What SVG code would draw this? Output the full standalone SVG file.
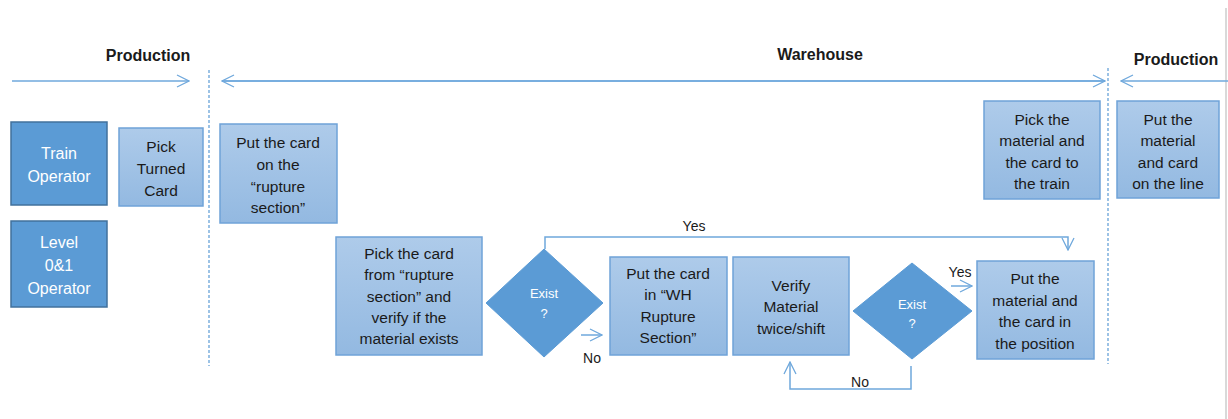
<svg xmlns="http://www.w3.org/2000/svg" width="1228" height="419" viewBox="0 0 1228 419">
<defs>
<linearGradient id="lg" x1="0" y1="0" x2="0" y2="1">
<stop offset="0" stop-color="#aecbea"/>
<stop offset="1" stop-color="#93b9e1"/>
</linearGradient>
<marker id="ahb" viewBox="0 0 14 14" refX="13" refY="7" markerWidth="14" markerHeight="14" markerUnits="userSpaceOnUse" orient="auto">
<path d="M1,1 L13,7 L1,13" fill="none" stroke="#6fa8dc" stroke-width="1.3"/>
</marker>
</defs>
<style>
.t{font-family:"Liberation Sans",Arial,sans-serif;font-size:15.5px;fill:#1a1a1a;text-anchor:middle}
.l{font-size:14px}
.w{fill:#ffffff;font-size:16px}
.s{font-size:13px}
.h{font-family:"Liberation Sans",Arial,sans-serif;font-size:16px;font-weight:bold;fill:#1a1a1a;text-anchor:middle}
.lb{fill:url(#lg);stroke:#6fa3d8;stroke-width:1.5}
.db{fill:#5b9bd5;stroke:#41719c;stroke-width:1.5}
.dm{fill:#5b9bd5;stroke:#5b9bd5;stroke-width:1}
.c{fill:none;stroke:#6fa8dc;stroke-width:1.5}
.d{fill:none;stroke:#5b9bd5;stroke-width:1.2;stroke-dasharray:3 2}
</style>
<rect width="1228" height="419" fill="#ffffff"/>
<line x1="1226" y1="8" x2="1226" y2="419" stroke="#d9d9d9" stroke-width="2"/>

<g id="headers">
<text class="h" x="148" y="61">Production</text>
<text class="h" x="820" y="60">Warehouse</text>
<text class="h" x="1176" y="65">Production</text>
</g>

<g id="connectors">
<line class="c" x1="12" y1="81" x2="189" y2="81" marker-end="url(#ahb)"/>
<line class="c" x1="1105" y1="81" x2="222" y2="81" marker-end="url(#ahb)"/>
<line class="c" x1="222" y1="81" x2="1105" y2="81" marker-end="url(#ahb)"/>
<line class="c" x1="1228" y1="81" x2="1121" y2="81" marker-end="url(#ahb)"/>
<line class="d" x1="209" y1="70" x2="209" y2="366"/>
<line class="d" x1="1108" y1="68" x2="1108" y2="364"/>
<polyline class="c" points="545,249 545,237 1068,237 1068,250" marker-end="url(#ahb)"/>
<line class="c" x1="581" y1="335" x2="602" y2="335" marker-end="url(#ahb)"/>
<line class="c" x1="951" y1="286" x2="972" y2="286" marker-end="url(#ahb)"/>
<polyline class="c" points="911,366 911,389 790,389 790,362" marker-end="url(#ahb)"/>
<text class="t l" x="694" y="231">Yes</text>
<text class="t l" x="592" y="363">No</text>
<text class="t l" x="960" y="277">Yes</text>
<text class="t l" x="860" y="387">No</text>
</g>

<g id="train-operator">
<rect class="db" x="11" y="122" width="96" height="83"/>
<text class="t w" x="59" y="159">Train</text>
<text class="t w" x="59" y="182">Operator</text>
</g>

<g id="level-operator">
<rect class="db" x="11" y="221" width="96" height="86"/>
<text class="t w" x="59" y="248">Level</text>
<text class="t w" x="59" y="271">0&amp;1</text>
<text class="t w" x="59" y="294">Operator</text>
</g>

<g id="pick-turned-card">
<rect class="lb" x="119" y="128" width="84" height="78"/>
<text class="t" x="161" y="152">Pick</text>
<text class="t" x="161" y="174">Turned</text>
<text class="t" x="161" y="196">Card</text>
</g>

<g id="put-card-rupture">
<rect class="lb" x="220" y="124" width="117" height="99"/>
<text class="t" x="278" y="148">Put the card</text>
<text class="t" x="278" y="170">on the</text>
<text class="t" x="278" y="192">“rupture</text>
<text class="t" x="278" y="213">section”</text>
</g>

<g id="pick-card-verify">
<rect class="lb" x="336" y="237" width="146" height="118"/>
<text class="t" x="409" y="259">Pick the card</text>
<text class="t" x="409" y="280">from “rupture</text>
<text class="t" x="409" y="302">section” and</text>
<text class="t" x="409" y="323">verify if the</text>
<text class="t" x="409" y="344">material exists</text>
</g>

<g id="exist-1">
<polygon class="dm" points="544,249 603,303 544,357 486,303"/>
<text class="t w s" x="544" y="298">Exist</text>
<text class="t w s" x="544" y="318">?</text>
</g>

<g id="put-card-wh">
<rect class="lb" x="610" y="257" width="117" height="98"/>
<text class="t" x="668" y="279">Put the card</text>
<text class="t" x="668" y="300">in “WH</text>
<text class="t" x="668" y="322">Rupture</text>
<text class="t" x="668" y="343">Section”</text>
</g>

<g id="verify-material">
<rect class="lb" x="733" y="257" width="116" height="98"/>
<text class="t" x="791" y="291">Verify</text>
<text class="t" x="791" y="312">Material</text>
<text class="t" x="791" y="334">twice/shift</text>
</g>

<g id="exist-2">
<polygon class="dm" points="912,263 972,311 912,359 853,311"/>
<text class="t w s" x="912" y="309">Exist</text>
<text class="t w s" x="912" y="328">?</text>
</g>

<g id="put-material-position">
<rect class="lb" x="977" y="261" width="117" height="98"/>
<text class="t" x="1035" y="284">Put the</text>
<text class="t" x="1035" y="306">material and</text>
<text class="t" x="1035" y="327">the card in</text>
<text class="t" x="1035" y="349">the position</text>
</g>

<g id="pick-material-train">
<rect class="lb" x="984" y="101" width="116" height="98"/>
<text class="t" x="1042" y="125">Pick the</text>
<text class="t" x="1042" y="146">material and</text>
<text class="t" x="1042" y="168">the card to</text>
<text class="t" x="1042" y="189">the train</text>
</g>

<g id="put-material-line">
<rect class="lb" x="1117" y="101" width="102" height="97"/>
<text class="t" x="1168" y="125">Put the</text>
<text class="t" x="1168" y="146">material</text>
<text class="t" x="1168" y="168">and card</text>
<text class="t" x="1168" y="189">on the line</text>
</g>
</svg>
